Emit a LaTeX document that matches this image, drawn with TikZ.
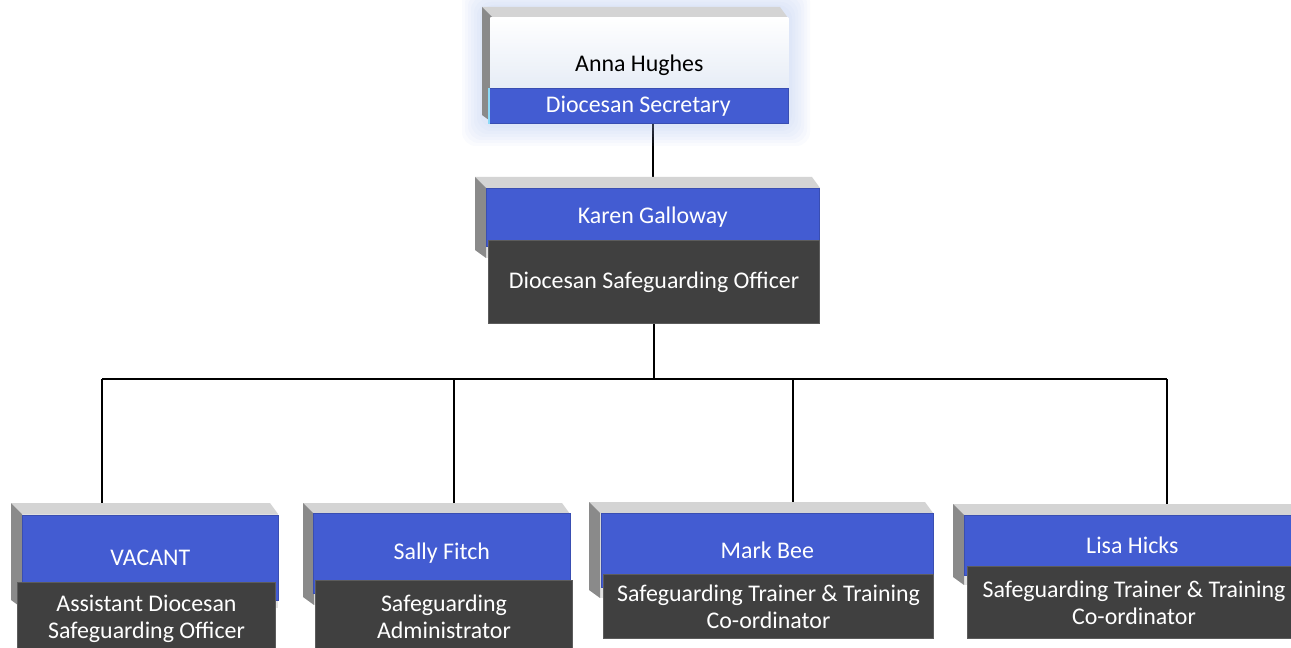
\documentclass[tikz,border=0pt]{standalone}
\usepackage{fontspec}
\setmainfont{Carlito}
\usepackage{tikz}
\usetikzlibrary{positioning}

\pgfdeclarelayer{background}
\pgfsetlayers{background,main}

\definecolor{cardblue}{RGB}{67,92,210}
\definecolor{carddark}{RGB}{64,64,64}
\definecolor{cardedge}{RGB}{92,92,92}
\definecolor{bevellight}{RGB}{212,212,212}
\definecolor{bevelface}{RGB}{226,226,226}
\definecolor{beveldark}{RGB}{138,138,138}
\definecolor{glowblue}{RGB}{160,185,240}
\definecolor{paleblue}{RGB}{222,230,243}

\tikzset{
	namebox/.style={anchor=north west,inner sep=0pt,fill=cardblue,draw=cardblue!85!black,
		line width=0.4pt,text=white,font=\fontsize{13.6}{15.5}\selectfont},
	rolebox/.style={anchor=north west,inner sep=0pt,fill=carddark,draw=cardedge,
		line width=0.6pt,text=white,align=center,font=\fontsize{13.6}{15.5}\selectfont},
	link/.style={line width=1.2pt,black},
}

% back of a card: #1=left, #2=top, #3=right, #4=bottom (pixels)
\newcommand\cardback[4]{%
	\fill[bevelface] (#1+11,#2+11) rectangle (#3,#4);
	\fill[bevellight] (#1,#2) -- (#3-8,#2) -- (#3,#2+11) -- (#1+11,#2+11) -- cycle;
	\fill[beveldark] (#1,#2) -- (#1+11,#2+11) -- (#1+11,#4) -- (#1,#4-8) -- cycle;
}

\begin{document}
\begin{tikzpicture}[x=0.02cm,y=-0.02cm]
	\clip (0,0) rectangle (1291,648);

	% glow round the top card
	\foreach \g in {2,5,...,20}
		\fill[glowblue,opacity=0.05,rounded corners=8pt] (482-\g,7-\g) rectangle (788+\g+2,123+\g+3);

	% top card
	\cardback{482}{7}{788}{123}
	\node[anchor=north west,inner sep=0pt,minimum width=5.96cm,minimum height=1.92cm,
		top color=white,bottom color=paleblue,font=\fontsize{13.6}{15.5}\selectfont] (anna) at (490,17) {Anna Hughes};
	\node[namebox,minimum width=6cm,minimum height=0.7cm] (annaRole) at (488,88) {Diocesan Secretary};
	\draw[cyan!45,line width=1.2pt] ([xshift=0.6pt]annaRole.north west) -- ([xshift=0.6pt]annaRole.south west);

	% second card
	\cardback{475}{177}{820}{258}
	\node[namebox,minimum width=6.66cm,minimum height=1.16cm] (karen) at (486,188) {Karen Galloway};
	\node[rolebox,minimum width=6.62cm,minimum height=1.66cm] (karenRole) at (488,240) {Diocesan Safeguarding Officer};

	% bottom row
	\cardback{11}{503}{278}{608}
	\node[namebox,minimum width=5.12cm,minimum height=1.7cm] (vacant) at (22,515) {VACANT};
	\node[rolebox,minimum width=5.16cm,minimum height=1.44cm] (vacantRole) at (17,582) {Assistant Diocesan\\Safeguarding Officer};

	\cardback{303}{503}{570}{605}
	\node[namebox,minimum width=5.14cm,minimum height=1.6cm] (sally) at (313,513) {Sally Fitch};
	\node[rolebox,minimum width=5.14cm,minimum height=1.44cm] (sallyRole) at (315,580) {Safeguarding\\Administrator};

	\cardback{589}{502}{933}{598}
	\node[namebox,minimum width=6.64cm,minimum height=1.48cm] (mark) at (601,513) {Mark Bee};
	\node[rolebox,minimum width=6.6cm,minimum height=1.28cm] (markRole) at (603,574) {Safeguarding Trainer \& Training\\Co-ordinator};

	\cardback{953}{504}{1300}{585}
	\node[namebox,minimum width=6.72cm,minimum height=1.2cm] (lisa) at (964,515) {Lisa Hicks};
	\node[rolebox,minimum width=6.66cm,minimum height=1.44cm] (lisaRole) at (967,566) {Safeguarding Trainer \& Training\\Co-ordinator};

	% connectors
	\coordinate (busL) at (102,379);
	\coordinate (busR) at (1167,379);
	\coordinate (drop2) at (454,379);
	\coordinate (drop3) at (793,379);
	\begin{pgfonlayer}{background}
		\fill[white] (0,0) rectangle (1291,648);
		\draw[link] (karen.north |- annaRole.south) -- (karen.north);
		\draw[link] (karenRole.south) -- (karenRole.south |- busL);
		\draw[link] (busL) -- (busR);
		\draw[link] (busL) -- (busL |- vacant.north);
		\draw[link] (drop2) -- (drop2 |- sally.north);
		\draw[link] (drop3) -- (drop3 |- mark.north);
		\draw[link] (busR) -- (busR |- lisa.north);
	\end{pgfonlayer}
\end{tikzpicture}
\end{document}
